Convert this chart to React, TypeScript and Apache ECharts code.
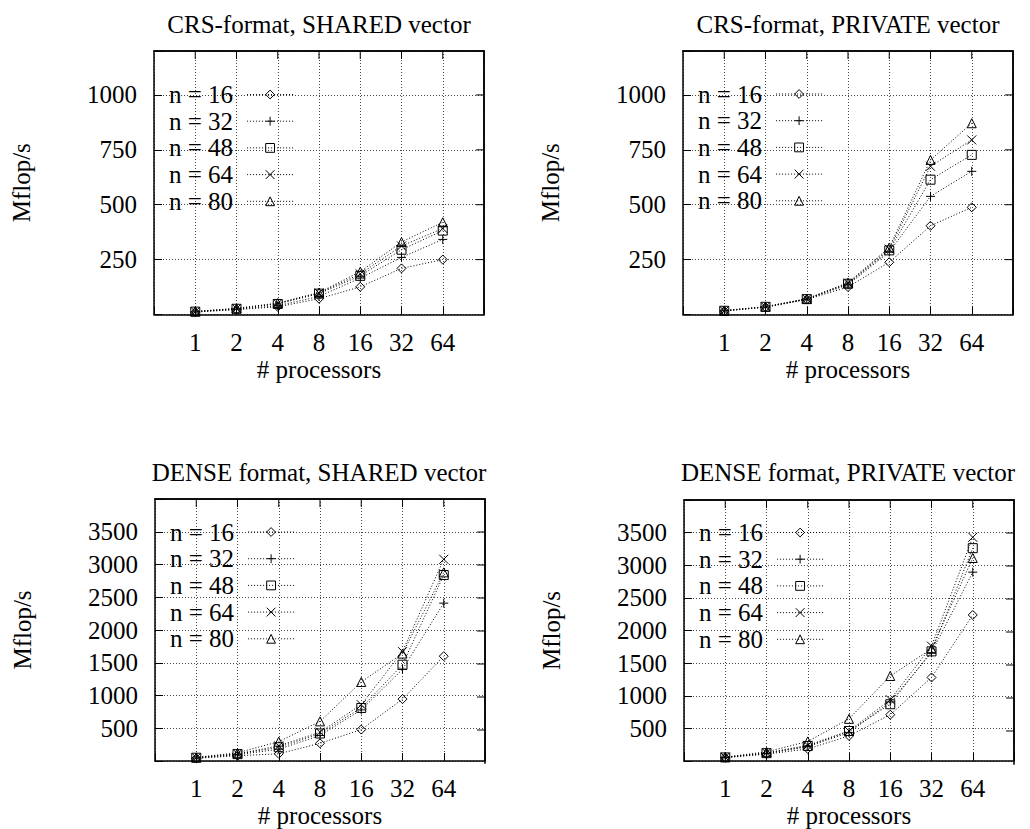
import React, { useEffect, useRef } from 'react';
import * as echarts from 'echarts';

// ---------- data ----------
const processors = [1, 2, 4, 8, 16, 32, 64];
const seriesNames = ['n = 16', 'n = 32', 'n = 48', 'n = 64', 'n = 80'];

const crsShared = [
  [11, 22, 35, 72, 126, 210, 250],
  [12, 24, 40, 82, 166, 260, 342],
  [13, 26, 48, 95, 176, 295, 382],
  [13, 27, 50, 98, 185, 312, 392],
  [14, 28, 52, 100, 195, 330, 420],
];
const crsPrivate = [
  [16, 33, 68, 125, 238, 404, 488],
  [17, 34, 70, 135, 285, 538, 652],
  [17, 35, 70, 140, 292, 614, 727],
  [17, 35, 71, 142, 298, 675, 795],
  [18, 36, 72, 145, 305, 704, 871],
];
const denseShared = [
  [40, 80, 110, 270, 480, 945, 1600],
  [45, 95, 180, 390, 780, 1400, 2410],
  [50, 105, 210, 420, 810, 1470, 2840],
  [52, 110, 230, 440, 860, 1670, 3080],
  [55, 125, 295, 605, 1207, 1640, 2880],
];
const densePrivate = [
  [50, 105, 185, 385, 710, 1280, 2238],
  [55, 115, 220, 435, 905, 1660, 2894],
  [55, 120, 230, 460, 870, 1680, 3262],
  [58, 125, 240, 460, 940, 1760, 3429],
  [60, 140, 300, 646, 1303, 1720, 3111],
];

const panelTitles = [
  'CRS-format, SHARED vector',
  'CRS-format, PRIVATE vector',
  'DENSE format, SHARED vector',
  'DENSE format, PRIVATE vector',
];
const yTicksCrs = [250, 500, 750, 1000];
const yTicksDense = [500, 1000, 1500, 2000, 2500, 3000, 3500];
const yLabel = 'Mflop/s';
const xLabel = '# processors';

// ---------- layout / style ----------
const FONT = 'Liberation Serif, Times New Roman, serif';
const symbols = [
  'path://M5,0L10,5L5,10L0,5Z',
  'path://M5,0L5,10M0,5L10,5',
  'path://M0,0L10,0L10,10L0,10Z',
  'path://M0,0L10,10M10,0L0,10',
  'path://M5,0L10,9L0,9Z',
];

const X_MIN = 0.5;
const X_MAX = 128;

const panels = [
  { values: crsShared, yTicks: yTicksCrs, yMax: 1200, yStep: 250, left: 154, top: 51, height: 263.5, titleX: 319, titleY: 24, legendTop: 82 },
  { values: crsPrivate, yTicks: yTicksCrs, yMax: 1200, yStep: 250, left: 683, top: 51, height: 263.5, titleX: 848, titleY: 24, legendTop: 81.5 },
  { values: denseShared, yTicks: yTicksDense, yMax: 4000, yStep: 500, left: 155, top: 499, height: 264, titleX: 319, titleY: 472, legendTop: 519.5 },
  { values: densePrivate, yTicks: yTicksDense, yMax: 4000, yStep: 500, left: 684, top: 500, height: 264, titleX: 848, titleY: 472, legendTop: 520 },
];
const PANEL_W = 330;
const TICK_LEN = 8;

const isTick = (v: number, list: number[]) => list.some((t) => Math.abs(t - v) < 1e-6);

export default function App() {
  const ref = useRef<HTMLDivElement>(null);

  useEffect(() => {
    document.body.style.margin = '0';
    if (!ref.current) return;
    const chart = echarts.init(ref.current, null, { renderer: 'svg' });

    const grid: any[] = [];
    const xAxis: any[] = [];
    const yAxis: any[] = [];
    const series: any[] = [];
    const legend: any[] = [];
    const graphic: any[] = [];

    const tick = () => ({ show: true, inside: true, length: TICK_LEN, lineStyle: { color: '#000', width: 1 } });
    const axLine = () => ({ show: true, onZero: false, lineStyle: { color: '#000', width: 1.5 } });
    const split = () => ({ show: true, lineStyle: { color: '#444', width: 1, type: [1, 2] } });
    const labelFont = { fontFamily: FONT, fontSize: 25, color: '#000' };

    const logSpan = Math.log2(X_MAX) - Math.log2(X_MIN);
    const solidBar = (x: number, y: number, w: number, h: number) => ({
      type: 'rect', z: 100, silent: true,
      shape: { x, y, width: w, height: h },
      style: { fill: '#000', stroke: null, lineWidth: 0 },
    });

    panels.forEach((p, i) => {
      grid.push({ left: p.left, top: p.top, width: PANEL_W, height: p.height });
      xAxis.push({
        type: 'log', logBase: 2, min: X_MIN, max: X_MAX, gridIndex: i, position: 'bottom',
        axisLine: axLine(), axisTick: tick(),
        axisLabel: { ...labelFont, margin: 15, formatter: (v: number) => (isTick(v, processors) ? String(Math.round(v)) : '') },
        splitLine: split(),
        name: xLabel, nameLocation: 'middle', nameGap: 42,
        nameTextStyle: { ...labelFont },
      });
      yAxis.push({
        type: 'value', min: 0, max: p.yMax, interval: p.yStep, gridIndex: i, position: 'left',
        axisLine: axLine(), axisTick: tick(),
        axisLabel: { ...labelFont, margin: 17, formatter: (v: number) => (isTick(v, p.yTicks) ? String(v) : '') },
        splitLine: split(),
        name: yLabel, nameLocation: 'middle', nameGap: 120,
        nameTextStyle: { ...labelFont },
      });

      p.values.forEach((vals, s) => {
        const s0: any = {
          type: 'line',
          name: seriesNames[s],
          xAxisIndex: i,
          yAxisIndex: i,
          data: processors.map((x, k) => [x, vals[k]]),
          symbol: symbols[s],
          symbolSize: 9,
          lineStyle: { color: '#000', width: 1, type: [1, 2] },
          itemStyle: { color: 'transparent', borderColor: '#000', borderWidth: 1 },
          emphasis: { disabled: true },
          z: 3,
        };
        if (s === 0) {
          // top and right frame edges, placed through the axes' own scales
          s0.markLine = {
            silent: true,
            symbol: ['none', 'none'],
            label: { show: false },
            lineStyle: { color: '#000', width: 1.5, type: 'solid' },
            emphasis: { disabled: true },
            data: [{ yAxis: p.yMax }, { xAxis: X_MAX }],
          };
        }
        series.push(s0);
      });

      legend.push({
        data: seriesNames,
        orient: 'vertical',
        left: p.left + 15,
        top: p.legendTop,
        align: 'right',
        itemWidth: 46,
        itemHeight: 11,
        itemGap: 1.7,
        padding: 0,
        selectedMode: false,
        itemStyle: { color: 'transparent', borderColor: '#000', borderWidth: 1 },
        lineStyle: { color: '#000', width: 1, type: [1, 2] },
        textStyle: { ...labelFont, padding: [0, 9, 0, 0] },
      });

      graphic.push({
        type: 'text', x: p.titleX, y: p.titleY,
        style: {
          text: panelTitles[i], font: `25px ${FONT}`, fill: '#000',
          align: 'center', verticalAlign: 'middle', textAlign: 'center', textVerticalAlign: 'middle',
        },
      });

      const right = p.left + PANEL_W;
      const bottom = p.top + p.height;
      // top and right frame edges as thin filled bars
      graphic.push(solidBar(p.left - 0.75, p.top - 0.75, PANEL_W + 1.5, 1.5));
      graphic.push(solidBar(right - 0.75, p.top - 0.75, 1.5, p.height + 1.5));
      // mirrored ticks on the top and right sides
      processors.forEach((v) => {
        const tx = p.left + (PANEL_W * (Math.log2(v) - Math.log2(X_MIN))) / logSpan;
        graphic.push(solidBar(tx - 0.5, p.top, 1, TICK_LEN));
      });
      for (let v = p.yStep; v < p.yMax; v += p.yStep) {
        const ty = bottom - (p.height * v) / p.yMax;
        graphic.push(solidBar(right - TICK_LEN, ty - 0.5, TICK_LEN, 1));
      }
    });

    chart.setOption({
      animation: false,
      backgroundColor: '#fff',
      grid, xAxis, yAxis, series, legend, graphic,
    });

    return () => chart.dispose();
  }, []);

  return <div ref={ref} style={{ width: 1030, height: 829 }} />;
}
